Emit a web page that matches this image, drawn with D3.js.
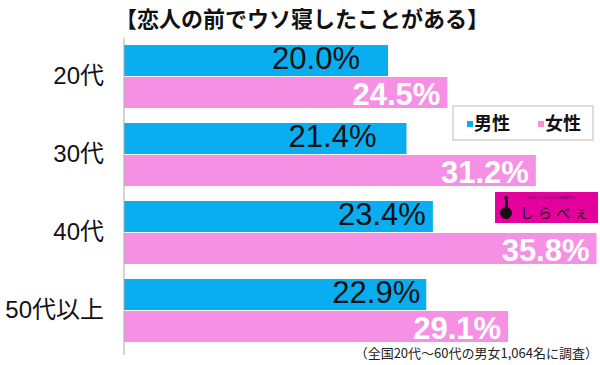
<!DOCTYPE html>
<html>
<head>
<meta charset="utf-8">
<script src="https://cdn.jsdelivr.net/npm/d3@7"></script>
<style>
  html, body { margin: 0; padding: 0; background: #fff; }
  svg { display: block; }
</style>
</head>
<body>
<div id="chart"></div>
<script>
// data
const ageGroups = ["20代", "30代", "40代", "50代以上"]
const sexes = ["男性", "女性"]
const maleValues = [20.0, 21.4, 23.4, 22.9]
const femaleValues = [24.5, 31.2, 35.8, 29.1]

const title = "【恋人の前でウソ寝したことがある】"
const note = "（全国20代〜60代の男女1,064名に調査）"

// label nudges (the original labels were placed by hand)
const maleLabelGap = [28, 30, 7, 6]
const femaleLabelGap = 7

const width = 600, height = 365
const colors = {"男性": "#08aef0", "女性": "#f690e4"}
const latin = "'Liberation Sans', Arial, 'Noto Sans CJK JP', sans-serif"
const cjk = "'Noto Sans CJK JP', 'Liberation Sans', sans-serif"

const rows = ageGroups.map((g, i) => ({
    group: g,
    idx: i,
    values: [
        {sex: "男性", value: maleValues[i]},
        {sex: "女性", value: femaleValues[i]}
    ]
}))

const svg = d3.select("#chart").append("svg")
    .attr("width", width)
    .attr("height", height)
    .attr("viewBox", [0, 0, width, height])

const x = d3.scaleLinear()
    .domain([0, 36])
    .range([124, 124 + 36 * 13.2])

const y = d3.scaleBand()
    .domain(ageGroups)
    .range([37.5, 349.5])
    .paddingInner(0.192)
    .paddingOuter(0.096)

const ySex = d3.scaleBand()
    .domain(sexes)
    .range([0, y.bandwidth()])
    .paddingInner(0.03)

// title
svg.append("text")
    .attr("x", 115)
    .attr("y", 27)
    .attr("font-family", cjk)
    .attr("font-weight", "bold")
    .attr("font-size", "22px")
    .attr("fill", "#111")
    .text(title)

// bars
const groups = svg.selectAll("g.age")
    .data(rows)
    .join("g")
    .attr("class", "age")
    .attr("transform", d => `translate(0,${y(d.group)})`)

groups.selectAll("rect")
    .data(d => d.values)
    .join("rect")
    .attr("x", x(0))
    .attr("y", d => ySex(d.sex))
    .attr("width", d => x(d.value) - x(0))
    .attr("height", ySex.bandwidth())
    .attr("fill", d => colors[d.sex])

// value labels
groups.each(function (row) {
    const g = d3.select(this)
    row.values.forEach(v => {
        const male = v.sex === "男性"
        const gap = male ? maleLabelGap[row.idx] : femaleLabelGap
        g.append("text")
            .attr("x", x(v.value) - gap)
            .attr("y", ySex(v.sex) + ySex.bandwidth() - (male ? 7 : 3))
            .attr("text-anchor", "end")
            .attr("font-family", latin)
            .attr("font-size", "31px")
            .attr("font-weight", male ? "normal" : "bold")
            .attr("fill", male ? "#111" : "#fff")
            .text(v.value.toFixed(1) + "%")
    })
})

// category axis
const yAxis = d3.axisLeft(y).tickSize(0).tickPadding(20)
const axisG = svg.append("g")
    .attr("transform", `translate(${x(0)},0)`)
    .call(yAxis)
axisG.select(".domain").remove()
axisG.selectAll("text")
    .attr("font-family", latin)
    .attr("font-size", "24px")
    .attr("fill", "#111")

svg.append("line")
    .attr("x1", x(0)).attr("x2", x(0))
    .attr("y1", 38).attr("y2", 355)
    .attr("stroke", "#aaa")
    .attr("stroke-width", 1)

// legend
const legend = svg.append("g").attr("transform", "translate(453,106)")
legend.append("rect")
    .attr("width", 140)
    .attr("height", 34)
    .attr("fill", "#fff")
    .attr("stroke", "#bbb")
    .attr("stroke-width", 1)
const legendItems = legend.selectAll("g.item")
    .data(sexes)
    .join("g")
    .attr("class", "item")
    .attr("transform", (d, i) => `translate(${14 + i * 71},0)`)
legendItems.append("rect")
    .attr("y", 15)
    .attr("width", 6)
    .attr("height", 6)
    .attr("fill", d => colors[d])
legendItems.append("text")
    .attr("x", 7)
    .attr("y", 24)
    .attr("font-family", cjk)
    .attr("font-weight", "bold")
    .attr("font-size", "18px")
    .attr("fill", "#111")
    .text(d => d)

// site logo
const logo = svg.append("g").attr("transform", "translate(495,192)")
logo.append("rect")
    .attr("width", 103)
    .attr("height", 31)
    .attr("fill", "#e4009c")
logo.append("circle")
    .attr("cx", 11)
    .attr("cy", 21)
    .attr("r", 6)
    .attr("fill", "#1a0a14")
logo.append("rect")
    .attr("x", 10)
    .attr("y", 8)
    .attr("width", 3)
    .attr("height", 10)
    .attr("fill", "#1a0a14")
logo.append("circle")
    .attr("cx", 11)
    .attr("cy", 6)
    .attr("r", 2)
    .attr("fill", "#1a0a14")
logo.append("text")
    .attr("x", 58)
    .attr("y", 7)
    .attr("text-anchor", "middle")
    .attr("font-family", cjk)
    .attr("font-size", "3.5px")
    .attr("fill", "#5a0a40")
    .text("おもしろ・ためになる情報サイト")
logo.append("text")
    .attr("x", 25)
    .attr("y", 26)
    .attr("font-family", cjk)
    .attr("font-size", "14px")
    .attr("letter-spacing", "4px")
    .attr("fill", "#1a0a14")
    .text("しらべぇ")

// note
svg.append("text")
    .attr("x", 598)
    .attr("y", 358)
    .attr("text-anchor", "end")
    .attr("font-family", cjk)
    .attr("font-size", "13px")
    .attr("fill", "#222")
    .text(note)
</script>
</body>
</html>
